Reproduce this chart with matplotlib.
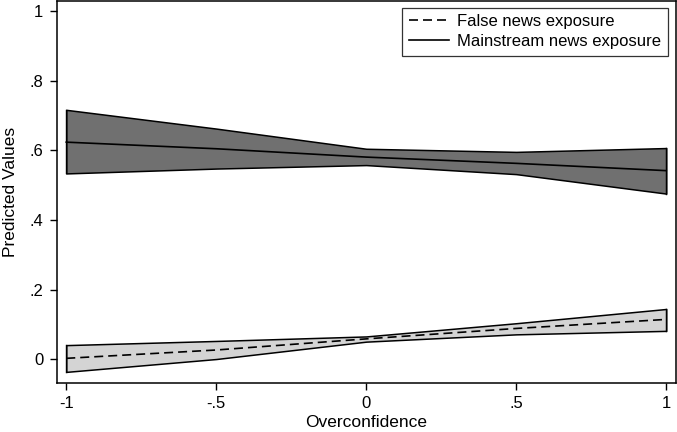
import matplotlib.pyplot as plt

plt.rcParams['font.family'] = ['Liberation Sans', 'DejaVu Sans']

# Overconfidence values
x = [-1, -0.5, 0, 0.5, 1]

# Predicted values, false news exposure
false_mid = [0.002, 0.026, 0.058, 0.088, 0.114]
false_lo = [-0.037, 0.000, 0.050, 0.071, 0.081]
false_hi = [0.040, 0.052, 0.065, 0.103, 0.144]

# Predicted values, mainstream news exposure
main_mid = [0.624, 0.605, 0.581, 0.563, 0.542]
main_lo = [0.534, 0.548, 0.558, 0.532, 0.476]
main_hi = [0.717, 0.663, 0.605, 0.596, 0.607]

xticks = [-1, -0.5, 0, 0.5, 1]
xtick_labels = ["-1", "-.5", "0", ".5", "1"]
yticks = [0, 0.2, 0.4, 0.6, 0.8, 1]
ytick_labels = ["0", ".2", ".4", ".6", ".8", "1"]

fig = plt.figure(figsize=(6.77, 4.32), dpi=100)
ax = fig.add_axes([0.0837, 0.1134, 0.915, 0.885])

# confidence bands
ax.fill_between(x, main_lo, main_hi, facecolor="#707070", edgecolor="black", linewidth=1.1)
ax.plot([x[0], x[0]], [main_lo[0], main_hi[0]], color="black", linewidth=1.0)
ax.plot([x[-1], x[-1]], [main_lo[-1], main_hi[-1]], color="black", linewidth=1.0)
ax.fill_between(x, false_lo, false_hi, facecolor="#d4d4d4", edgecolor="black", linewidth=1.1)
ax.plot([x[0], x[0]], [false_lo[0], false_hi[0]], color="black", linewidth=1.0)
ax.plot([x[-1], x[-1]], [false_lo[-1], false_hi[-1]], color="black", linewidth=1.0)

ax.plot(x, false_mid, color="black", linewidth=1.2, linestyle=(0, (5.4, 3)),
        label="False news exposure")
ax.plot(x, main_mid, color="black", linewidth=1.2, label="Mainstream news exposure")

ax.set_xlim(-1.032, 1.033)
ax.set_ylim(-0.069, 1.031)
ax.set_xticks(xticks)
ax.set_xticklabels(xtick_labels)
ax.set_yticks(yticks)
ax.set_yticklabels(ytick_labels)
ax.tick_params(direction="out", length=5, width=1, labelsize=12, pad=4.5)
ax.set_xlabel("Overconfidence", fontsize=12.5, labelpad=3)
ax.set_ylabel("Predicted Values", fontsize=12.5, labelpad=8)
for s in ax.spines.values():
    s.set_linewidth(1.1)

leg = ax.legend(loc="upper right", fontsize=12, frameon=True, fancybox=False,
                edgecolor="black", handlelength=2.4, handletextpad=0.5,
                borderpad=0.4, labelspacing=0.3, borderaxespad=0,
                bbox_to_anchor=(0.987, 0.982))
leg.get_frame().set_linewidth(0.9)

fig.savefig("out.png", dpi=100)
